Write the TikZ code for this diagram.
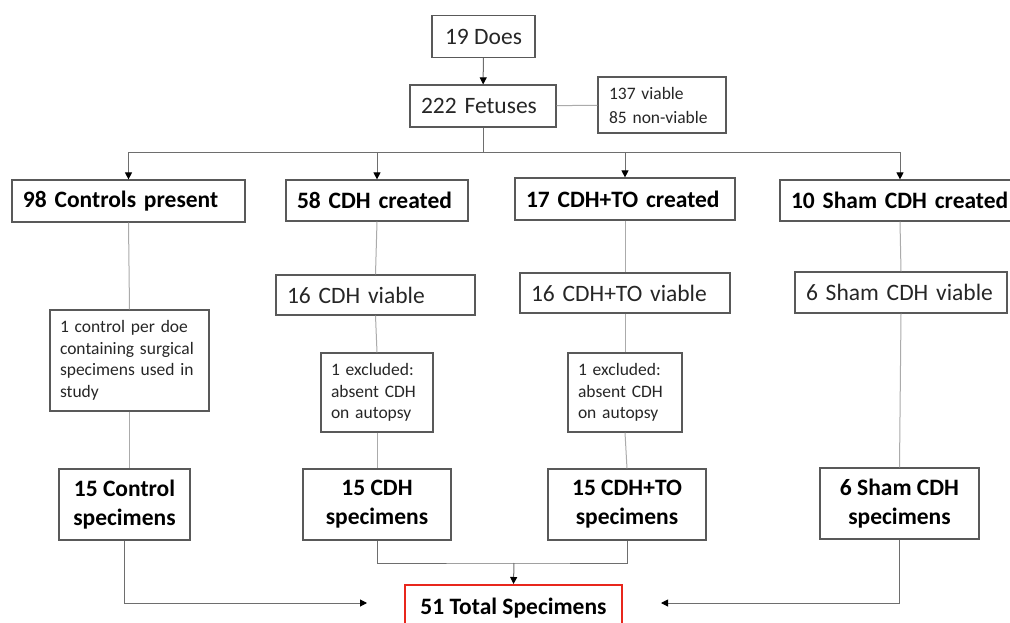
\documentclass[tikz,border=0pt]{standalone}
\usepackage{fontspec}
\setmainfont{Carlito}
\usetikzlibrary{positioning}
\usetikzlibrary{arrows.meta,shapes}
\definecolor{boxgray}{HTML}{595959}
\definecolor{arrowgray}{HTML}{6E6E6E}
\definecolor{linegray}{HTML}{ABABAB}
\definecolor{totalred}{HTML}{E8261C}
\newcommand{\bigtext}{\fontsize{23.5}{29}\selectfont}
\newcommand{\smalltext}{\fontsize{17.5}{21.5}\selectfont}

\begin{document}
\begin{tikzpicture}
    [x=1pt, y=-1pt,
    post/.style={->,
                 arrowgray,
                 line width=1pt,
                 >={Triangle[length=7pt,width=7pt,color=black]}},
    link/.style={linegray,
                 line width=1pt},
    ob/.style={rectangle,
               draw=boxgray,
               line width=1.2pt,
               inner xsep=11pt,
               inner ysep=0pt,
               minimum height=42pt,
               font=\bigtext,
               text=black!85},
    lbox/.style={ob,
                 text width=#1,
                 align=left},
    cbox/.style={ob,
                 minimum width=#1,
                 align=center},
    bold/.style={font=\bigtext\bfseries, text=black},
    note/.style={inner xsep=10pt, font=\smalltext}]
    \useasboundingbox (0,0) rectangle (1010,623);
    % top of the chart
    \node[cbox=103] (Does) at (483.5,36.5) {19 Does};
    \node[lbox=124] (Fetuses) at (483,106) {222 Fetuses};
    \node[lbox=106,
          minimum height=56pt,
          font=\fontsize{17.5}{24}\selectfont] (Viable) at (662,105) {137 viable\\85 non-viable};
    % groups
    \node[lbox=211, bold] (Controls) at (128.5,201) {98 Controls present};
    \node[lbox=160, bold,
          minimum height=41pt] (CDH) at (377,200.5) {58 CDH created};
    \node[lbox=198, bold] (CDHTO) at (625,199) {17 CDH+TO created};
    \node[lbox=218, bold,
          minimum height=41pt] (Sham) at (900,200.5) {10 Sham CDH created};
    % viable
    \node[lbox=177, minimum height=40pt] (CDHv) at (375.5,295) {16 CDH viable};
    \node[lbox=188, minimum height=40pt] (CDHTOv) at (625,293) {16 CDH+TO viable};
    \node[lbox=190, minimum height=41pt] (Shamv) at (901,292.5) {6 Sham CDH viable};
    % notes
    \node[lbox=139, note,
          minimum height=101pt] (PerDoe) at (129.5,360.5)
          {1 control per doe\\containing surgical\\specimens used in\\study};
    \node[lbox=92, note,
          minimum height=79pt] (ExclCDH) at (377,392.5)
          {1 excluded:\\absent CDH\\on autopsy};
    \node[lbox=94, note,
          minimum height=79pt] (ExclTO) at (625,392.5)
          {1 excluded:\\absent CDH\\on autopsy};
    % specimens
    \node[cbox=131, bold,
          minimum height=71pt] (CtrlSpec) at (124.5,504.5) {15 Control\\specimens};
    \node[cbox=148, bold,
          minimum height=71pt] (CDHSpec) at (377,504.5) {15 CDH\\specimens};
    \node[cbox=158, bold,
          minimum height=71pt] (TOSpec) at (627,504.5) {15 CDH+TO\\specimens};
    \node[cbox=159, bold,
          minimum height=71pt] (ShamSpec) at (899.5,503.5) {6 Sham CDH\\specimens};
    \node[cbox=217, bold,
          draw=totalred,
          line width=2pt,
          minimum height=46pt] (Total) at (513.5,608) {51 Total Specimens};
    % connectors
    \coordinate (Split) at (483,153);
    \coordinate (Merge) at (514,563);
    \draw[post] (Does) -- (Fetuses);
    \draw[link] (Fetuses) -- (Viable);
    \draw[post] (Fetuses.south) -- (Split) -| (Controls.north);
    \draw[post] (Fetuses.south) -- (Split) -| (CDH.north);
    \draw[post] (Fetuses.south) -- (Split) -| (CDHTO.north);
    \draw[post] (Fetuses.south) -- (Split) -| (Sham.north);
    \draw[link] (Controls.south) -- (PerDoe.north);
    \draw[link] (PerDoe.south) -- (CtrlSpec.north -| PerDoe.south);
    \draw[link] (CDH.south) -- (CDHv.north);
    \draw[link] (CDHv.south) -- (ExclCDH.north);
    \draw[link] (ExclCDH.south) -- (CDHSpec.north);
    \draw[link] (CDHTO.south) -- (CDHTOv.north);
    \draw[link] (CDHTOv.south) -- (ExclTO.north);
    \draw[link] (ExclTO.south) -- (TOSpec.north);
    \draw[link] (Sham.south) -- (Shamv.north);
    \draw[link] (Shamv.south) -- (ShamSpec.north);
    \draw[post, shorten >=37pt] (CtrlSpec.south) |- ([yshift=5pt]Total.west);
    \draw[post, shorten >=38pt] (ShamSpec.south) |- ([yshift=5pt]Total.east);
    \draw[arrowgray, line width=1pt] (CDHSpec.south) |- (Merge) -| (TOSpec.south);
    \draw[post] (Merge) -- (Total.north);
\end{tikzpicture}
\end{document}
